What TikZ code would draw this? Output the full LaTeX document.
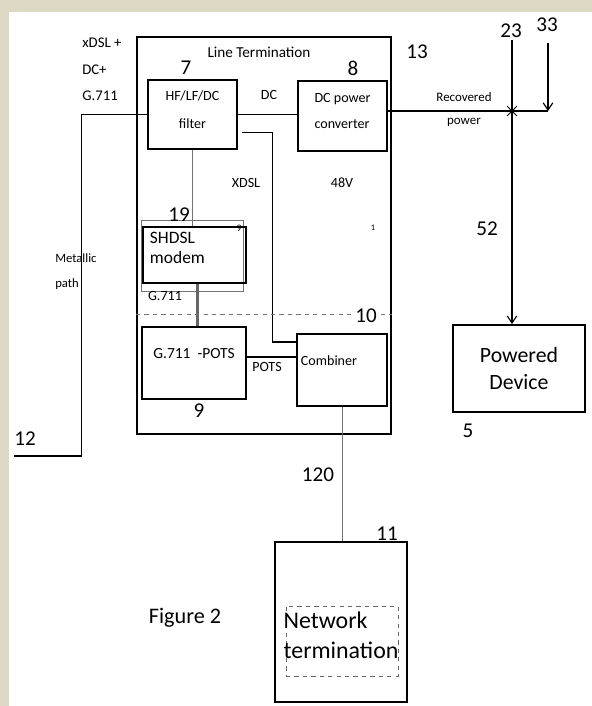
\documentclass[tikz,border=0pt]{standalone}
\usepackage{fontspec}
\setmainfont{Carlito}
\usetikzlibrary{positioning,arrows.meta,shapes.misc}
\definecolor{scanbeige}{RGB}{221,216,195}

\begin{document}
\begin{tikzpicture}[x=0.025cm,y=-0.025cm,>={Straight Barb[length=1.8mm,width=2.4mm]},
   box/.style={draw,line width=1.3pt,inner sep=0pt},
   lbl/.style={inner sep=0pt,font=\fontsize{10}{12}\selectfont},
   num/.style={inner sep=0pt,font=\fontsize{15}{18}\selectfont},
   wire/.style={line width=0.8pt},
   faint/.style={line width=0.6pt,black!55}]
  \useasboundingbox (0,0) rectangle (592,706);
  \fill[scanbeige] (0,0) rectangle (592,706);
  \fill[white] (9,12) rectangle (592,706);

  % line termination and its blocks
  \node[box,minimum width=6.35cm,minimum height=9.925cm] (lt) at (264,235.5) {};
  \node[lbl,font=\fontsize{10.8}{13}\selectfont] (lttitle) at (259,52) {Line Termination};
  \node[box,minimum width=2.225cm,minimum height=1.725cm,align=center,text depth=0.25cm,
        font=\fontsize{10}{20}\selectfont] (filter) at (192.5,114.5) {HF/LF/DC\\filter};
  \node[box,minimum width=2.225cm,minimum height=1.75cm,align=left,text depth=0.23cm,
        font=\fontsize{10}{18.5}\selectfont] (conv) at (342.5,116) {DC power\\converter};
  \node[draw,faint,line width=0.5pt,minimum width=2.55cm,minimum height=1.775cm] (shell) at (192,255.5) {};
  \node[box,minimum width=2.575cm,minimum height=1.4cm,inner xsep=0.175cm,text width=2.225cm,
        align=left,text depth=0.86cm,font=\fontsize{12.4}{14.5}\selectfont] (modem) at (194.5,255) {SHDSL\\modem};
  \node[box,minimum width=2.6cm,minimum height=1.8cm,text depth=0.48cm,
        font=\fontsize{11}{13}\selectfont] (pots) at (194,363) {G.711~~-POTS};
  \node[box,minimum width=2.25cm,minimum height=1.8cm,inner xsep=0.1cm,text width=2.05cm,
        align=left,text depth=0.45cm,font=\fontsize{10}{12}\selectfont] (comb) at (342,370) {Combiner};

  % outside blocks
  \node[box,minimum width=3.3cm,minimum height=2.175cm,align=center,
        font=\fontsize{15.5}{19.2}\selectfont] (pd) at (519,368.5) {Powered\\Device};
  \node[box,minimum width=3.3cm,minimum height=4cm] (nt) at (341,622) {};
  \node[draw,dashed,black!60,line width=0.5pt,minimum width=2.8cm,minimum height=1.75cm] (ntframe) at (342,641) {};
  \node[inner sep=0pt,align=left,font=\fontsize{17}{21.3}\selectfont] (ntlabel) at (341,635) {Network\\termination};

  \coordinate (mp) at (14,456);
  \coordinate (in23) at (512,40);
  \coordinate (in33) at (548,43);
  \coordinate (jn) at (548,111);
  \coordinate (cut) at (0,314);

  % connections
  \draw[wire] (filter.west) -- ++(-66,0) |- (mp);
  \draw[wire] (filter.east) -- (filter.east -| conv.west);
  \draw[wire] ([xshift=0.1cm,yshift=-0.46cm]filter.east) -- ++(31,0) |- ([yshift=0.7cm]comb.west);
  \draw[faint] (filter.south) -- (filter.south |- modem.north);
  \draw[line width=2pt,black!60] ([xshift=0.07cm]modem.south) -- ([xshift=0.07cm]modem.south |- pots.north);
  \draw[wire] ([yshift=0.15cm]pots.east) -- ([yshift=0.15cm]pots.east -| comb.west);
  \draw[faint] (comb.south) -- (comb.south |- nt.north);
  \draw[wire] (conv.east |- jn) -- (jn);
  \draw[wire,->] (in33) -- (jn);
  \draw[wire,->] (in23) -- (in23 |- pd.north);
  \node[draw,cross out,line width=0.7pt,minimum size=0.22cm,inner sep=0pt] (xing) at (in23 |- jn) {};
  \draw[dashed,black!55,line width=0.6pt] (lt.west |- cut) -- (lt.east |- cut);

  % labels
  \node[lbl,align=left,anchor=west,font=\fontsize{10.5}{18.8}\selectfont] (feed) at (82,69.5) {xDSL +\\DC+\\G.711};
  \node[lbl,align=left,anchor=west,font=\fontsize{9}{17.8}\selectfont] (metal) at (55,272) {Metallic\\path};
  \node[lbl] (dc) at (269,95) {DC};
  \node[lbl] (xdsl) at (246,183) {XDSL};
  \node[lbl] (v48) at (342,183) {48V};
  \node[lbl] (pots2) at (267,367) {POTS};
  \node[lbl] (g711) at (165,296) {G.711};
  \node[lbl,align=center,font=\fontsize{9.2}{16.4}\selectfont] (recov) at (464,110) {Recovered\\power};
  \node[inner sep=0pt,font=\fontsize{7}{8}\selectfont] (tiny9) at (239,228) {9};
  \node[inner sep=0pt,font=\fontsize{6}{7}\selectfont] (tiny1) at (373,228) {1};
  \node[inner sep=0pt,font=\fontsize{15.8}{19}\selectfont] (fig) at (185,618) {Figure 2};

  \node[num] (n13) at (417,52) {13};
  \node[num] (n7) at (186,68) {7};
  \node[num] (n8) at (353,68) {8};
  \node[num] (n23) at (511,31) {23};
  \node[num] (n33) at (547,25) {33};
  \node[num] (n52) at (487,229) {52};
  \node[num] (n5) at (468,431) {5};
  \node[num] (n12) at (25,439) {12};
  \node[num] (n19) at (179,215) {19};
  \node[num,fill=white,inner xsep=1.5pt] (n10) at (366,316) {10};
  \node[num] (n9) at (199,411) {9};
  \node[num] (n120) at (318,475) {120};
  \node[num] (n11) at (387,534) {11};
\end{tikzpicture}
\end{document}
